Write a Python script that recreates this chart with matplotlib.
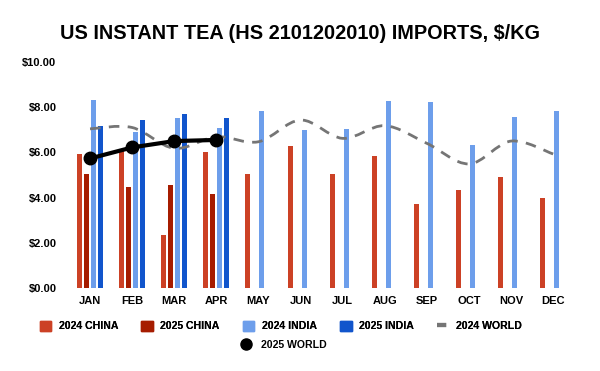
import matplotlib

matplotlib.use("Agg")
import matplotlib.pyplot as plt
import numpy as np
from matplotlib.lines import Line2D
from matplotlib.patches import Patch, PathPatch
from matplotlib.path import Path

plt.rcParams["font.family"] = ["Liberation Sans", "DejaVu Sans"]
plt.rcParams["font.weight"] = "bold"

months = ["JAN", "FEB", "MAR", "APR", "MAY", "JUN",
          "JUL", "AUG", "SEP", "OCT", "NOV", "DEC"]
china_2024 = [5.95, 6.1, 2.33, 6.0, 5.03, 6.3, 5.03, 5.83, 3.7, 4.33, 4.9, 3.97]
china_2025 = [5.03, 4.48, 4.54, 4.15]
india_2024 = [8.33, 6.9, 7.5, 7.07, 7.82, 6.98, 7.02, 8.26, 8.22, 6.31, 7.55, 7.82]
india_2025 = [7.17, 7.43, 7.68, 7.5]
world_2024 = [7.04, 7.1, 6.18, 6.69, 6.47, 7.43, 6.62, 7.18, 6.4, 5.49, 6.5, 5.93]
world_2025 = [5.73, 6.22, 6.5, 6.55]

c_china24 = "#cc4125"
c_china25 = "#a61c00"
c_india24 = "#6d9eeb"
c_india25 = "#1155cc"
c_world24 = "#757575"


def smooth_path(xs, ys, tension=0.5):
    # catmull-rom style curve turned into cubic bezier segments
    pts = np.column_stack([np.asarray(xs, float), np.asarray(ys, float)])
    verts = [pts[0]]
    codes = [Path.MOVETO]
    n = len(pts)
    for i in range(n - 1):
        p0 = pts[max(i - 1, 0)]
        p1 = pts[i]
        p2 = pts[i + 1]
        p3 = pts[min(i + 2, n - 1)]
        verts += [p1 + (p2 - p0) * tension / 3,
                  p2 - (p3 - p1) * tension / 3,
                  p2]
        codes += [Path.CURVE4] * 3
    return Path(verts, codes)


fig = plt.figure(figsize=(6, 3.71), dpi=100)
ax = fig.add_axes([0.115, 0.2237, 0.842, 0.6093])

x = np.arange(len(months))
step = 0.166
w = 0.12
ax.bar(x - 1.5 * step, china_2024, w, color=c_china24, zorder=2)
ax.bar(x[:4] - 0.5 * step, china_2025, w, color=c_china25, zorder=2)
ax.bar(x + 0.5 * step, india_2024, w, color=c_india24, zorder=2)
ax.bar(x[:4] + 1.5 * step, india_2025, w, color=c_india25, zorder=2)

ax.add_patch(PathPatch(smooth_path(x, world_2024), fill=False,
                       edgecolor=c_world24, lw=2, ls=(0, (3.8, 3)), zorder=3))
ax.plot(x[:4], world_2025, color="black", lw=3, marker="o", ms=9, zorder=4)

ax.set_xlim(-0.5, 11.5)
ax.set_ylim(0, 10)
ax.set_xticks(x)
ax.set_xticklabels(months)
yt = np.arange(0, 11, 2)
ax.set_yticks(yt)
ax.set_yticklabels([f"${v:.2f}" for v in yt])
ax.tick_params(length=0, labelsize=8, pad=6)
ax.tick_params(axis="y", pad=9)
for side in ["top", "right", "left", "bottom"]:
    ax.spines[side].set_visible(False)

fig.suptitle("US INSTANT TEA (HS 2101202010) IMPORTS, $/KG",
             fontsize=14.3, fontweight="bold", y=0.935)

handles = [
    Patch(color=c_china24, label="2024 CHINA"),
    Patch(color=c_china25, label="2025 CHINA"),
    Patch(color=c_india24, label="2024 INDIA"),
    Patch(color=c_india25, label="2025 INDIA"),
    Line2D([], [], color=c_world24, lw=3, ls=(0, (2.2, 1.6)), label="2024 WORLD"),
]
leg1 = fig.legend(handles=handles, loc="center", bbox_to_anchor=(0.468, 0.121),
                  ncol=5, frameon=False, fontsize=7.6, handlelength=1.1,
                  handleheight=1.1, columnspacing=2.2, handletextpad=0.7)
fig.add_artist(leg1)
fig.legend(handles=[Line2D([], [], color="black", marker="o", ls="none", ms=8,
                           label="2025 WORLD")],
           loc="center", bbox_to_anchor=(0.468, 0.07), frameon=False,
           fontsize=7.6, handletextpad=0.4)

fig.savefig("out.png", dpi=100)
